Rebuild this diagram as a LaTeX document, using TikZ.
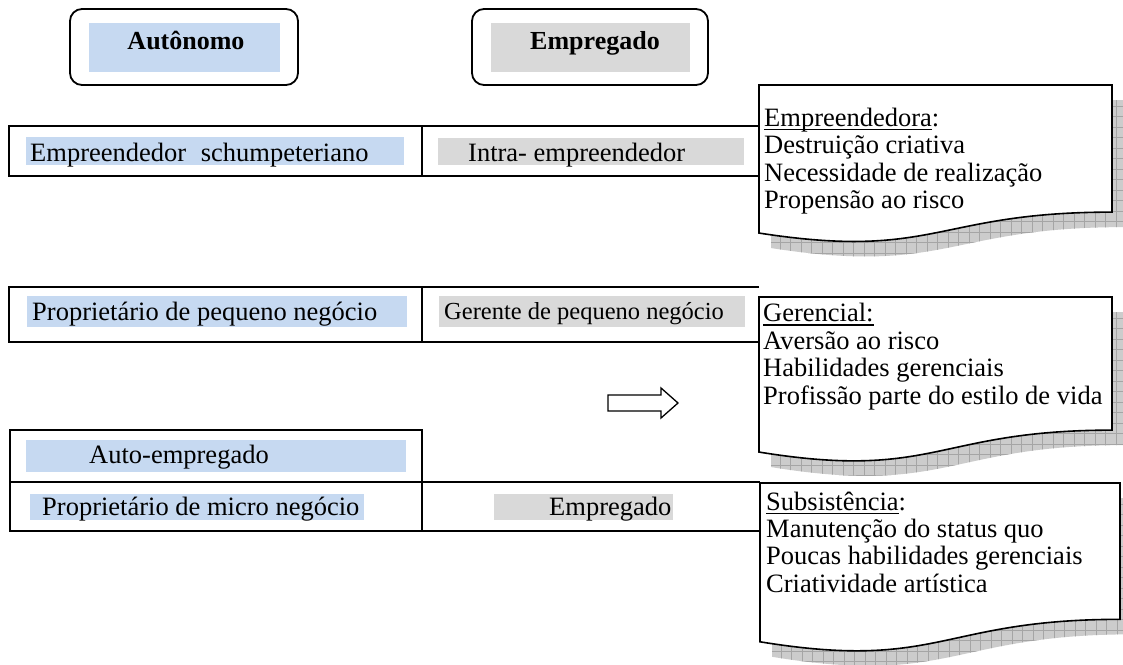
\documentclass[tikz,border=0pt]{standalone}
\usepackage{fontspec}
\setmainfont{Liberation Serif}
\definecolor{hlblue}{RGB}{198,217,241}
\definecolor{hlgrey}{RGB}{217,217,217}
\definecolor{shfill}{RGB}{204,204,204}
\definecolor{shgrid}{RGB}{165,165,165}
\newcommand\wul[1]{\setbox0\hbox{#1}\rlap{\rule[-4pt]{\wd0}{1.5pt}}\box0}
% doc shape path: L T R H
\newcommand\docshape[5][]{%
  \draw[#1] (#2,#3) -- (#4,#3) -- (#4,{#3+0.802*#5})
    .. controls ({(#2+#4)/2},{#3+0.802*#5}) and ({(#2+#4)/2},{#3+1.107*#5}) .. (#2,{#3+0.934*#5}) -- cycle;}
\newcommand\docshadow[4]{%
  \begin{scope}
    \clip ({#1+12},{#2+15}) -- ({#3+12},{#2+15}) -- ({#3+12},{#2+15+0.802*#4})
      .. controls ({(#1+#3)/2+12},{#2+15+0.802*#4}) and ({(#1+#3)/2+12},{#2+15+1.107*#4}) .. ({#1+12},{#2+15+0.934*#4}) -- cycle;
    \fill[shfill] (#1,#2) rectangle ({#3+20},{#2+1.3*#4});
    \foreach \g in {0,10.5,...,390} {
      \draw[shgrid,line width=0.7pt] ({#1+\g},#2) -- ({#1+\g},{#2+1.3*#4});
    }
    \foreach \g in {0,10.5,...,230} {
      \draw[shgrid,line width=0.7pt] (#1,{#2+\g}) -- ({#3+20},{#2+\g});
    }
  \end{scope}}
\begin{document}
\begin{tikzpicture}[x=1pt,y=-1pt,
  txt/.style={anchor=base west,inner sep=0pt,font=\fontsize{26.5}{30}\selectfont},
  ctxt/.style={anchor=base,inner sep=0pt,font=\fontsize{26}{30}\selectfont\bfseries},
  smalltxt/.style={anchor=base west,inner sep=0pt,font=\fontsize{24.5}{28}\selectfont},
  topbox/.style={draw,line width=1.8pt,rounded corners=12pt},
  cell/.style={draw,line width=1.5pt},
  docline/.style={line width=1.6pt,fill=white,line join=miter}]
\useasboundingbox (0,0) rectangle (1123,664);
\fill[white] (0,0) rectangle (1123,664);

% top headers
\draw[topbox] (70,9) rectangle (298,85);
\fill[hlblue] (89,23) rectangle (280,72);
\node[ctxt] (hA) at (186,49) {Autônomo};
\draw[topbox] (472,9) rectangle (708,85);
\fill[hlgrey] (491,23) rectangle (690,72);
\node[ctxt] (hE) at (595,49) {Empregado};

% shadows of the document shapes
\docshadow{759}{85}{1112}{158.5}
\docshadow{759}{297}{1112}{166}
\docshadow{760}{483}{1120}{170}

% row 1
\fill[hlblue] (26,137) rectangle (404,165);
\fill[hlgrey] (438,138) rectangle (744,165);
\draw[cell] (759,126) -- (9,126) -- (9,176) -- (759,176);
\draw[cell] (422,126) -- (422,176);
\node[txt] (r1a) at (30,161) {Empreendedor\hspace{8pt} schumpeteriano};
\node[txt] (r1b) at (468,161) {Intra- empreendedor};

% row 2
\fill[hlblue] (27,296) rectangle (407,327);
\fill[hlgrey] (439,296) rectangle (745,327);
\draw[cell] (759,287) -- (9,287) -- (9,342) -- (759,342);
\draw[cell] (422,287) -- (422,342);
\node[txt] (r2a) at (32,320) {Proprietário de pequeno negócio};
\node[smalltxt] (r2b) at (444,319) {Gerente de pequeno negócio};

% arrow
\draw[line width=1.3pt,line join=miter] (608,395) -- (661,395) -- (661,388) -- (678,403) -- (661,418) -- (661,411) -- (608,411) -- cycle;

% row 3
\fill[hlblue] (26,440) rectangle (406,472);
\draw[cell] (10,430) rectangle (422,482);
\node[txt] (r3) at (89,463) {Auto-empregado};

% row 4
\fill[hlblue] (30,494) rectangle (364,520);
\fill[hlgrey] (494,494) rectangle (673,520);
\draw[cell] (760,482) -- (10,482) -- (10,531) -- (760,531);
\draw[cell] (422,482) -- (422,531);
\node[txt] (r4a) at (42,515) {Proprietário de micro negócio};
\node[txt] (r4b) at (549,515) {Empregado};

% document shapes
\docshape[docline]{759}{85}{1112}{158.5}
\docshape[docline]{759}{297}{1112}{166}
\docshape[docline]{760}{483}{1120}{170}

% document texts
\node[txt] (d1a) at (764,126) {\wul{Empreendedora}:};
\node[txt] (d1b) at (764,153.5) {Destruição criativa};
\node[txt] (d1c) at (764,181) {Necessidade de realização};
\node[txt] (d1d) at (764,208.5) {Propensão ao risco};

\node[txt] (d2a) at (763,321.5) {\wul{Gerencial:}};
\node[txt] (d2b) at (763,349) {Aversão ao risco};
\node[txt] (d2c) at (763,376.5) {Habilidades gerenciais};
\node[txt] (d2d) at (763,404) {Profissão parte do estilo de vida};

\node[txt] (d3a) at (766,510) {\wul{Subsistência}:};
\node[txt] (d3b) at (766,537) {Manutenção do status quo};
\node[txt] (d3c) at (766,564.5) {Poucas habilidades gerenciais};
\node[txt] (d3d) at (766,592) {Criatividade artística};
\end{tikzpicture}
\end{document}
